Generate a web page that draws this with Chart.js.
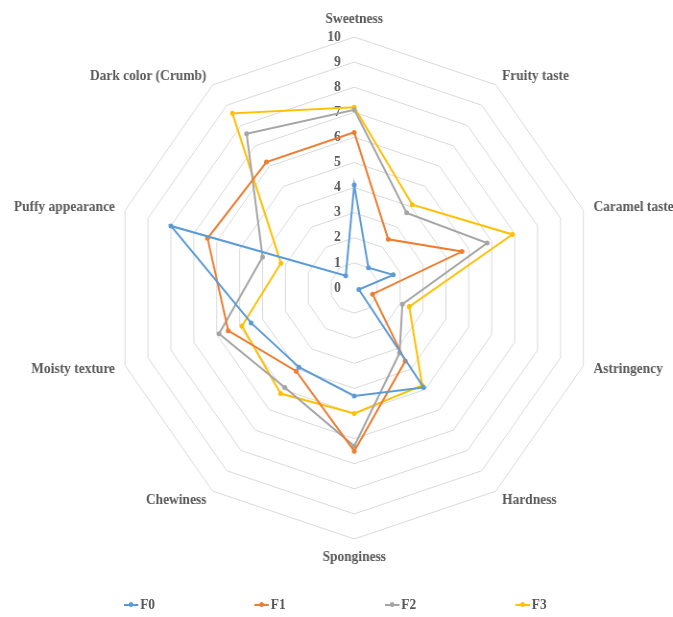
<!DOCTYPE html>
<html>
<head>
<meta charset="utf-8">
<script src="https://cdn.jsdelivr.net/npm/chart.js@4/dist/chart.umd.min.js"></script>
<style>
  body { margin: 0; background: #fff; }
  #wrap { position: relative; width: 701px; height: 617px; transform: scaleX(0.96); transform-origin: 0 0; }
  #wrap canvas { position: absolute; left: 0; top: 0; }
  #legend { position: absolute; left: 129px; top: 596px; display: flex; font: bold 14px "Liberation Serif", serif; color: #595959; }
  .item { width: 136px; display: flex; align-items: center; height: 18px; }
  .mark { position: relative; width: 15px; height: 2px; margin-right: 2px; }
  .mark i { position: absolute; left: 5px; top: -2px; width: 5px; height: 5px; border-radius: 50%; }
</style>
</head>
<body>
<div id="wrap">
  <canvas id="chart"></canvas>
  <div id="legend"></div>
</div>
<script>
const categories = ['Sweetness', 'Fruity taste', 'Caramel taste', 'Astringency', 'Hardness',
  'Sponginess', 'Chewiness', 'Moisty texture', 'Puffy appearance', 'Dark color (Crumb)'];
const seriesNames = ['F0', 'F1', 'F2', 'F3'];
const seriesColors = ['#5B9BD5', '#ED7D31', '#A5A5A5', '#FFC000'];
const f0 = [4.1, 1.0, 1.7, 0.2, 4.9, 4.3, 3.9, 4.5, 8.0, 0.6];
const f1 = [6.2, 2.4, 4.7, 0.8, 3.6, 6.5, 4.1, 5.5, 6.4, 6.2];
const f2 = [7.1, 3.7, 5.8, 2.1, 3.2, 6.3, 4.9, 5.9, 4.0, 7.6];
const f3 = [7.2, 4.1, 6.9, 2.4, 4.8, 5.0, 5.2, 4.9, 3.2, 8.6];
const tickValues = [0, 1, 2, 3, 4, 5, 6, 7, 8, 9, 10];

const textColor = '#595959';
const textFont = 'bold 14px "Liberation Serif", serif';

// tick numbers and axis names, placed from the radial scale
const axisText = {
  id: 'axisText',
  beforeDatasetsDraw(chart) {
    const scale = chart.scales.r;
    const ctx = chart.ctx;
    ctx.save();
    ctx.fillStyle = textColor;
    ctx.font = textFont;
    ctx.textAlign = 'right';
    ctx.textBaseline = 'middle';
    tickValues.forEach(v => {
      const y = scale.yCenter - scale.getDistanceFromCenterForValue(v);
      ctx.fillText(String(v), scale.xCenter - 14, y);
    });

    categories.forEach((name, i) => {
      const pos = scale.getPointPosition(i, scale.drawingArea + 11);
      const deg = Math.round(scale.getIndexAngle(i) * 180 / Math.PI) % 360;
      if (deg === 0) {
        ctx.textAlign = 'center';
        ctx.textBaseline = 'bottom';
      } else if (deg === 180) {
        ctx.textAlign = 'center';
        ctx.textBaseline = 'top';
      } else {
        ctx.textAlign = deg < 180 ? 'left' : 'right';
        ctx.textBaseline = 'middle';
      }
      ctx.fillText(name, pos.x, pos.y);
    });
    ctx.restore();
  }
};

const allValues = [f0, f1, f2, f3];
const datasets = seriesNames.map((name, k) => ({
  label: name,
  data: allValues[k],
  borderColor: seriesColors[k],
  backgroundColor: seriesColors[k],
  pointBackgroundColor: seriesColors[k],
  pointBorderWidth: 0,
  pointRadius: 2.5,
  borderWidth: 2,
  fill: false
}));

new Chart(document.getElementById('chart'), {
  type: 'radar',
  data: { labels: categories, datasets: datasets },
  options: {
    responsive: true,
    maintainAspectRatio: false,
    animation: false,
    layout: { padding: { top: 37, bottom: 78, left: 38, right: 0 } },
    plugins: { legend: { display: false }, tooltip: { enabled: false } },
    scales: {
      r: {
        min: 0,
        max: 10,
        ticks: { stepSize: 1, display: false },
        grid: { color: '#D9D9D9', lineWidth: 1 },
        angleLines: { display: false },
        pointLabels: { display: false }
      }
    }
  },
  plugins: [axisText]
});

// legend row
const legend = document.getElementById('legend');
seriesNames.forEach((name, k) => {
  const item = document.createElement('div');
  item.className = 'item';
  const mark = document.createElement('span');
  mark.className = 'mark';
  mark.style.background = seriesColors[k];
  const dot = document.createElement('i');
  dot.style.background = seriesColors[k];
  mark.appendChild(dot);
  const txt = document.createElement('span');
  txt.textContent = name;
  item.appendChild(mark);
  item.appendChild(txt);
  legend.appendChild(item);
});
</script>
</body>
</html>
